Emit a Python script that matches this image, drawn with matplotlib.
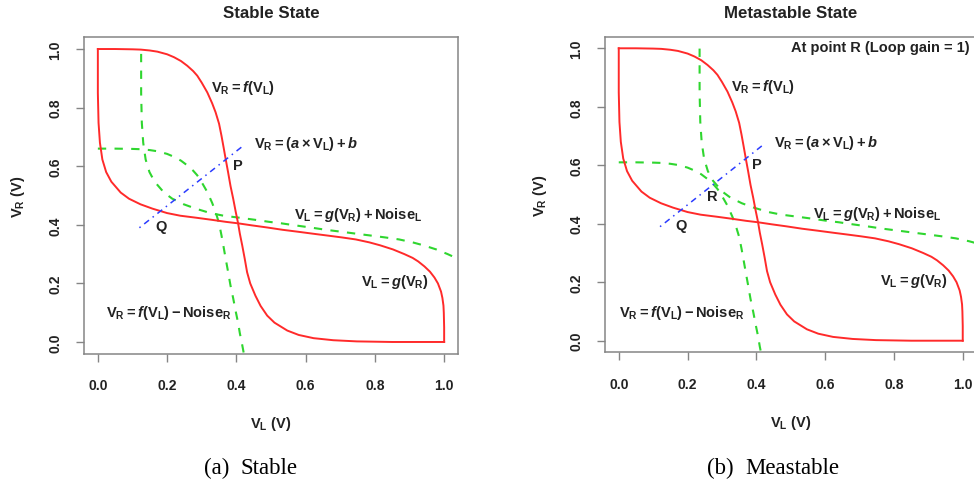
import matplotlib
matplotlib.use("Agg")
import matplotlib.pyplot as plt
import numpy as np

plt.rcParams['font.family'] = ['Liberation Sans', 'DejaVu Sans']
plt.rcParams['font.weight'] = 'bold'
plt.rcParams['mathtext.fontset'] = 'custom'
plt.rcParams['mathtext.rm'] = 'Liberation Sans:bold'
plt.rcParams['mathtext.it'] = 'Liberation Sans:bold:italic'
plt.rcParams['mathtext.bf'] = 'Liberation Sans:bold'

# ---- data: butterfly curve V_R = f(V_L) (V_L = g(V_R) is its mirror) ----
f_vl = [0.000, 0.050, 0.100, 0.124, 0.150, 0.172, 0.200, 0.220, 0.240, 0.258,
        0.275, 0.287, 0.300, 0.316, 0.330, 0.340, 0.350, 0.357, 0.363, 0.369,
        0.376, 0.383, 0.391, 0.398, 0.405, 0.410, 0.417, 0.424, 0.431, 0.440,
        0.455, 0.470, 0.489, 0.510, 0.547, 0.580, 0.623, 0.680, 0.748, 0.850, 1.000]
f_vr = [1.000, 1.000, 0.999, 0.998, 0.995, 0.991, 0.982, 0.972, 0.959, 0.943,
        0.925, 0.909, 0.885, 0.852, 0.815, 0.784, 0.745, 0.704, 0.665, 0.625,
        0.580, 0.533, 0.488, 0.445, 0.405, 0.370, 0.329, 0.285, 0.238, 0.200,
        0.158, 0.123, 0.090, 0.066, 0.039, 0.024, 0.013, 0.006, 0.002, 0.000, 0.000]

# noise margins per panel
noise_L = {'stable': 0.125, 'meta': 0.235}
noise_R = {'stable': 0.34, 'meta': 0.39}

# load line V_R = a*V_L + b
line_vl = [0.12, 0.42]
line_vr = [0.39, 0.67]

x_ticks = [0.0, 0.2, 0.4, 0.6, 0.8, 1.0]
tick_labels = ['0.0', '0.2', '0.4', '0.6', '0.8', '1.0']

titles = {'stable': 'Stable State', 'meta': 'Metastable State'}

# ---- figure ----
W, H = 974, 485
fig = plt.figure(figsize=(W / 100, H / 100), dpi=100)

def px_axes(l, t, r, b):
    return [l / W, (H - b) / H, (r - l) / W, (b - t) / H]

ax1 = fig.add_axes(px_axes(84, 38.3, 458, 354.7))
ax2 = fig.add_axes(px_axes(605, 37.6, 976.5, 353.4))

RED = '#ff2a2a'
GREEN = '#2fd62f'
BLUE = '#2b3cff'
GRAY = '#858585'
TXT = '#222222'
FS = 10.5
TFS = 10

vl = np.array(f_vl)
vr = np.array(f_vr)

def draw(ax, key):
    nL = noise_L[key]
    nR = noise_R[key]
    ax.set_xlim(-0.04, 1.04)
    ax.set_ylim(-0.04, 1.04)
    # red butterfly
    ax.plot(vl, vr, color=RED, lw=1.4, zorder=3)
    ax.plot(vr, vl, color=RED, lw=1.4, zorder=3)
    # green noisy curves
    ax.plot(vl, vr - nR, color=GREEN, lw=1.5, dashes=(4, 4), zorder=2)
    ax.plot(vr + nL, vl, color=GREEN, lw=1.5, dashes=(4, 4), zorder=2)
    # blue load line
    ax.plot(line_vl, line_vr, color=BLUE, lw=1.1, dashes=(1, 3, 4, 3), zorder=4)

    ax.set_xticks(x_ticks)
    ax.set_xticklabels(tick_labels, fontweight='bold')
    ax.set_yticks(x_ticks)
    ax.set_yticklabels(tick_labels, fontweight='bold')
    ax.tick_params(axis='both', direction='out', length=6, width=1,
                   color=GRAY, labelsize=TFS, labelcolor=TXT)
    ax.tick_params(axis='x', pad=11.5)
    ax.tick_params(axis='y', pad=9.5)
    for lbl in ax.get_yticklabels():
        lbl.set_rotation(90)
        lbl.set_va('center')
    for s in ax.spines.values():
        s.set_color(GRAY)
        s.set_linewidth(1.1)

    ax.set_xlabel(r'$\mathrm{V_L}$ (V)', fontsize=FS, color=TXT, va='center', fontweight='bold')
    ax.xaxis.set_label_coords(0.5, -0.219)
    ax.set_ylabel(r'$\mathrm{V_R}$ (V)', fontsize=FS, color=TXT, va='center', ha='center',
                  fontweight='bold')
    ax.yaxis.set_label_coords(-0.176, 0.5)
    ax.text(0.5, 1.077, titles[key], transform=ax.transAxes, ha='center',
            va='center', fontsize=12.2, fontweight='bold', color=TXT)

    kw = dict(fontsize=FS, color=TXT, va='center', ha='left', zorder=5, fontweight='bold')
    ax.text(0.326, 0.871, r'$\mathrm{V_R} = f(\mathrm{V_L})$', **kw)
    ax.text(0.45, 0.68, r'$\mathrm{V_R} = (a \times \mathrm{V_L}) + b$', **kw)
    ax.text(0.565, 0.436, r'$\mathrm{V_L} = g(\mathrm{V_R}) + \mathrm{Noise_L}$', **kw)
    ax.text(0.76, 0.209, r'$\mathrm{V_L} = g(\mathrm{V_R})$', **kw)


draw(ax1, 'stable')
draw(ax2, 'meta')

kw = dict(fontsize=FS, color=TXT, va='center', ha='left', zorder=5, fontweight='bold')
ax1.text(0.023, 0.101, r'$\mathrm{V_R} = f(\mathrm{V_L}) - \mathrm{Noise_R}$', **kw)
ax1.text(0.39, 0.605, 'P', **kw)
ax1.text(0.165, 0.397, 'Q', **kw)

ax2.text(0.002, 0.099, r'$\mathrm{V_R} = f(\mathrm{V_L}) - \mathrm{Noise_R}$', **kw)
ax2.text(0.387, 0.604, 'P', **kw)
ax2.text(0.256, 0.496, 'R', **kw)
ax2.text(0.164, 0.397, 'Q', **kw)
ax2.text(1.021, 1.005, 'At point R (Loop gain = 1)', fontsize=FS, color=TXT,
         va='center', ha='right', fontweight='bold')

# captions
cap = dict(fontsize=16.5, family='Liberation Serif', va='baseline', ha='left',
           color='black', fontweight='normal')
fig.text(204 / W, 1 - 474 / H, '(a)', **cap)
fig.text(240 / W, 1 - 474 / H, 'Stable', **cap)
fig.text(706.7 / W, 1 - 474 / H, '(b)', **cap)
fig.text(745 / W, 1 - 474 / H, 'Meastable', **cap)

fig.savefig('out.png', dpi=100)
